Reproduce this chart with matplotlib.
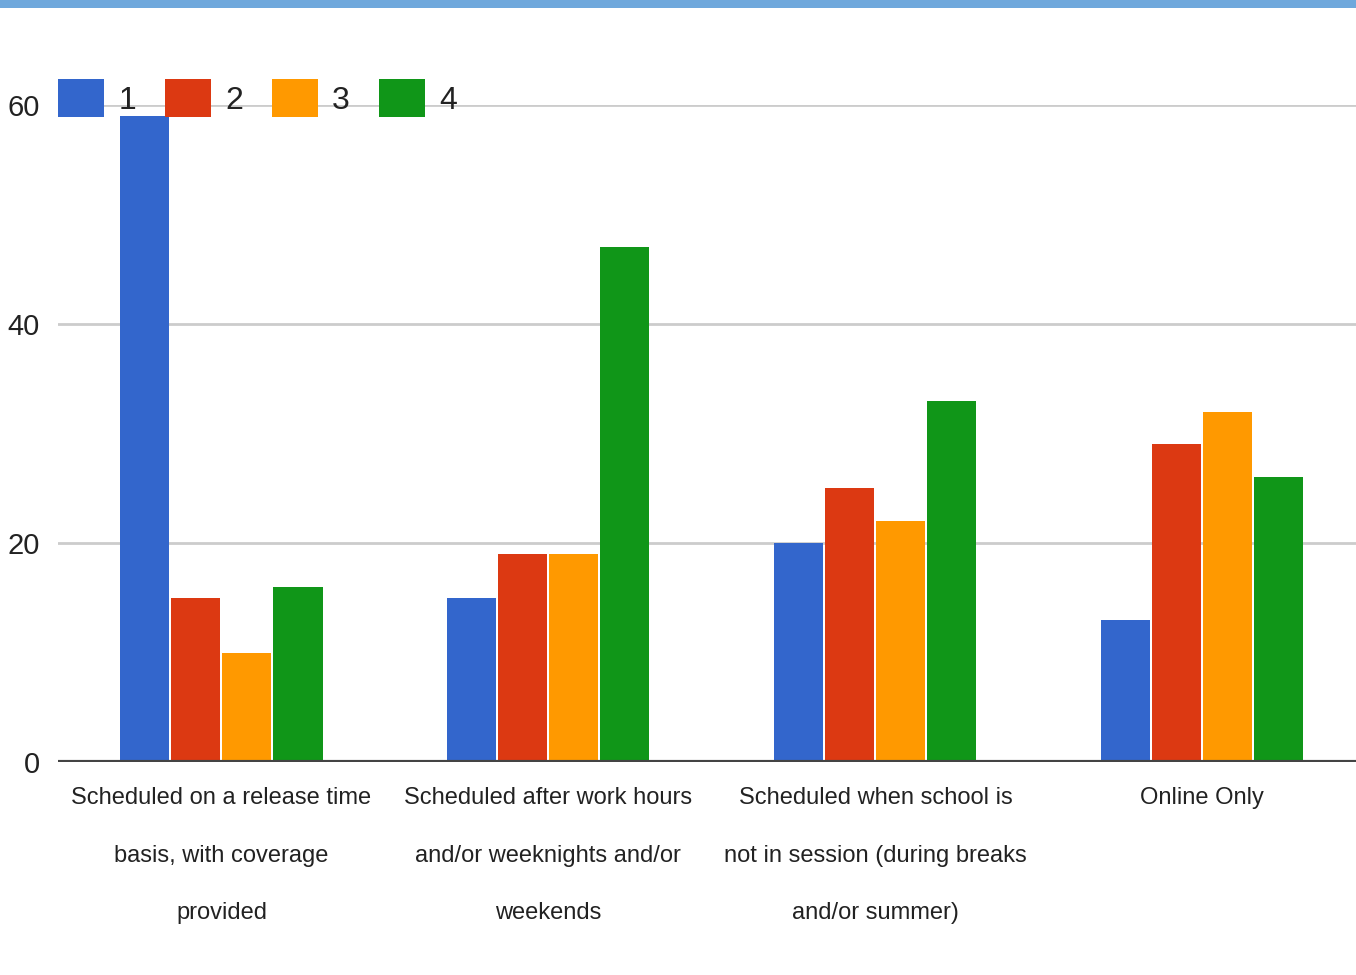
import matplotlib.pyplot as plt
from matplotlib.patches import Rectangle
import numpy as np

categories = [
    "Scheduled on a release time\nbasis, with coverage\nprovided",
    "Scheduled after work hours\nand/or weeknights and/or\nweekends",
    "Scheduled when school is\nnot in session (during breaks\nand/or summer)",
    "Online Only",
]
series_names = ["1", "2", "3", "4"]
series_1 = [59, 15, 20, 13]
series_2 = [15, 19, 25, 29]
series_3 = [10, 19, 22, 32]
series_4 = [16, 47, 33, 26]
yticks = [0, 20, 40, 60]

colors = ["#3366cc", "#dc3912", "#ff9900", "#109618"]
font = ["Liberation Sans", "DejaVu Sans"]
text_color = "#222222"

fig = plt.figure(figsize=(13.56, 9.75), dpi=100)
fig.patch.set_facecolor("white")

# thin blue strip along the top edge
fig.patches.append(Rectangle((0, 1 - 8 / 975), 1, 8 / 975, transform=fig.transFigure,
                             facecolor="#6fa8dc", edgecolor="none"))

ax = fig.add_axes([58 / 1356, 213 / 975, 1298 / 1356, 657 / 975])

x = np.arange(len(categories))
step = 0.156
width = 0.15
all_series = [series_1, series_2, series_3, series_4]
for i, vals in enumerate(all_series):
    ax.bar(x + (i - 1.5) * step, vals, width, color=colors[i], label=series_names[i], zorder=3)

ax.set_xlim(-0.5, 3.47)
ax.set_ylim(0, 60)
for s in ax.spines.values():
    s.set_visible(False)

for v in yticks[1:]:
    ax.axhline(v, color="#cccccc", lw=2, zorder=1)
ax.axhline(0, color="#444444", lw=3, zorder=4)

ax.set_yticks(yticks)
ax.set_yticklabels([str(v) for v in yticks], family=font, fontsize=21, color=text_color)
ax.tick_params(axis="y", length=0, pad=13)

ax.set_xticks(x)
ax.set_xticklabels(categories, family=font, fontsize=17, color=text_color,
                   linespacing=3.1, va="top", ha="center")
ax.tick_params(axis="x", length=0, pad=18)

handles, labels = ax.get_legend_handles_labels()
fig.legend(handles, labels, loc="center left", bbox_to_anchor=(58 / 1356, 1 - 98 / 975),
           ncol=4, frameon=False, borderpad=0, borderaxespad=0,
           handlelength=1.44, handleheight=1.45, handletextpad=0.45, columnspacing=0.9,
           prop={"family": font, "size": 23}, labelcolor=text_color)

fig.savefig("out.png", dpi=100, facecolor="white")
